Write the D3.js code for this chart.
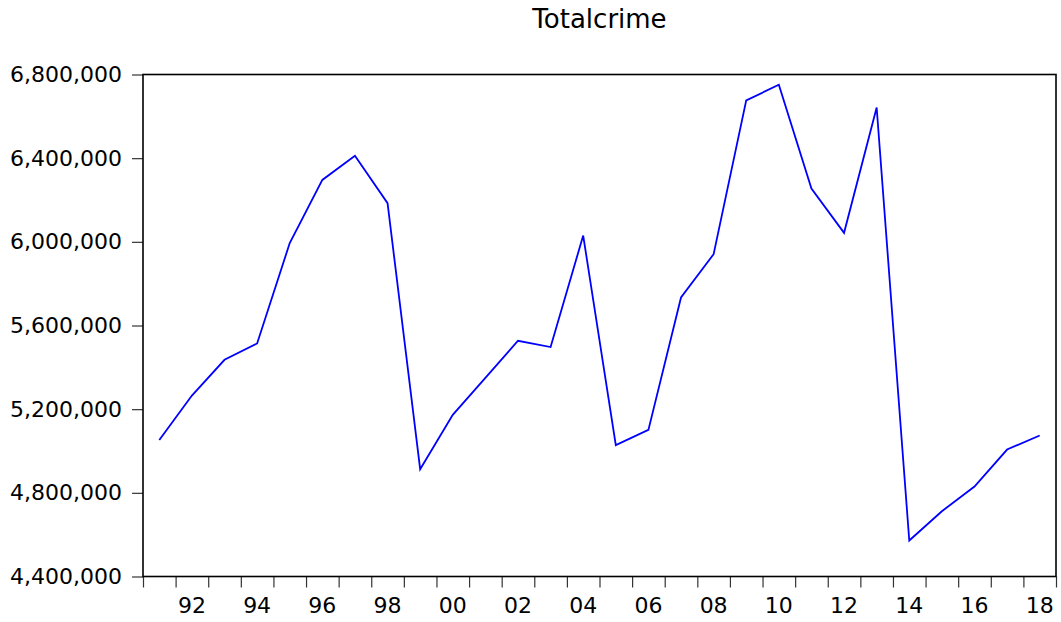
<!DOCTYPE html>
<html>
<head>
<meta charset="utf-8">
<script src="https://cdn.jsdelivr.net/npm/d3@7.9.0/dist/d3.min.js"></script>
<style>
  html, body { margin: 0; padding: 0; background: #fff; }
  svg { display: block; }
  text { font-family: "DejaVu Sans", Arial, sans-serif; fill: #000; }
</style>
</head>
<body>
<div id="chart"></div>
<script>
const title = 'Totalcrime';

const years = [1991, 1992, 1993, 1994, 1995, 1996, 1997, 1998, 1999, 2000,
               2001, 2002, 2003, 2004, 2005, 2006, 2007, 2008, 2009, 2010,
               2011, 2012, 2013, 2014, 2015, 2016, 2017, 2018];

const totalcrime = [5053000, 5265000, 5436000, 5514000, 5994000, 6296000, 6412000,
                    6185000, 4913000, 5173000, 5350000, 5527000, 5497000, 6030000,
                    5028000, 5101000, 5734000, 5941000, 6676000, 6751000, 6255000,
                    6043000, 6642000, 4572000, 4712000, 4830000, 5007000, 5074000];

const yTicks = [4400000, 4800000, 5200000, 5600000, 6000000, 6400000, 6800000];
const xLabelYears = [1992, 1994, 1996, 1998, 2000, 2002, 2004, 2006, 2008,
                     2010, 2012, 2014, 2016, 2018];

const W = 1061, H = 622, M = {t: 74.5, r: 5, b: 45.5, l: 143};

const x = d3.scaleLinear()
  .domain([years[0], years[years.length - 1] + 1])
  .range([M.l, W - M.r]);

const y = d3.scaleLinear()
  .domain([yTicks[0], yTicks[yTicks.length - 1]])
  .range([H - M.b, M.t]);

const svg = d3.select('#chart').append('svg')
  .attr('width', W).attr('height', H);

svg.append('text')
  .attr('x', (M.l + W - M.r) / 2)
  .attr('y', 28)
  .attr('text-anchor', 'middle')
  .style('font-size', '26px')
  .text(title);

// y axis
const yAxis = svg.append('g')
  .attr('transform', `translate(${M.l},0)`)
  .call(d3.axisLeft(y).tickValues(yTicks).tickSize(11).tickPadding(10)
    .tickFormat(d3.format(',')));
yAxis.select('.domain').remove();
yAxis.selectAll('line').attr('stroke', '#333').attr('stroke-width', 1.2);
yAxis.selectAll('text').style('font-size', '22px');

// x axis: ticks at year boundaries, labels centred in each year
const xAxis = svg.append('g')
  .attr('transform', `translate(0,${H - M.b})`)
  .call(d3.axisBottom(x).tickValues(d3.range(years[0], years[years.length - 1] + 2))
    .tickSize(11).tickFormat(''));
xAxis.select('.domain').remove();
xAxis.selectAll('line').attr('stroke', '#333').attr('stroke-width', 1.2);

svg.append('g').selectAll('text')
  .data(xLabelYears)
  .join('text')
    .attr('x', d => x(d + 0.5))
    .attr('y', 613)
    .attr('text-anchor', 'middle')
    .style('font-size', '22px')
    .text(d => String(d % 100).padStart(2, '0'));

// frame
svg.append('rect')
  .attr('x', M.l).attr('y', M.t)
  .attr('width', W - M.r - M.l).attr('height', H - M.b - M.t)
  .attr('fill', 'none').attr('stroke', '#000').attr('stroke-width', 1.6);

// series
const line = d3.line()
  .x((d, i) => x(years[i] + 0.5))
  .y(d => y(d));

svg.append('path')
  .datum(totalcrime)
  .attr('d', line)
  .attr('fill', 'none')
  .attr('stroke', '#0000ff')
  .attr('stroke-width', 1.8)
  .attr('stroke-linejoin', 'miter');
</script>
</body>
</html>
